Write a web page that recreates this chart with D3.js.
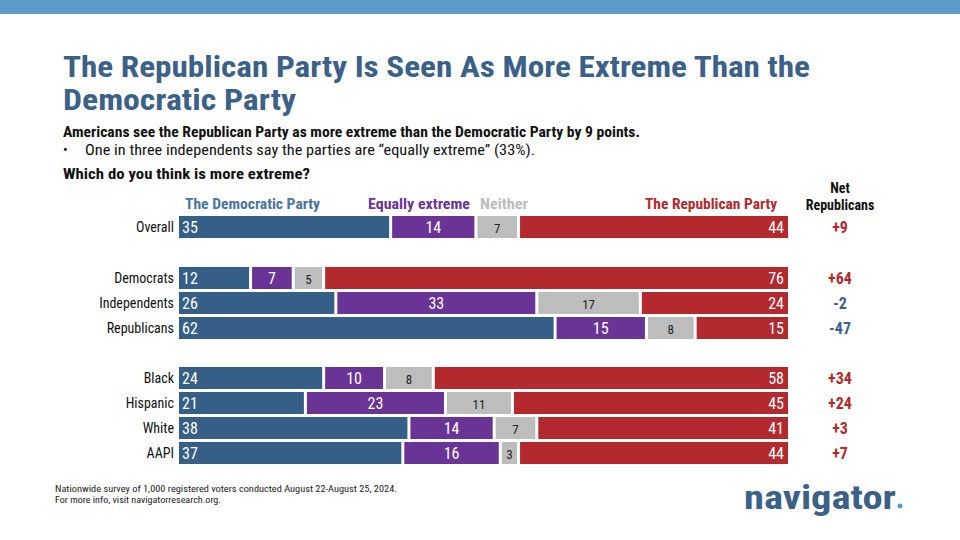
<!DOCTYPE html>
<html><head><meta charset="utf-8">
<script src="https://cdn.jsdelivr.net/npm/d3@7/dist/d3.min.js"></script>
<style>body{margin:0;background:#fff}svg{display:block}text{font-family:"Liberation Sans Narrow","Roboto Condensed","Liberation Sans",sans-serif}</style>
</head><body><svg id="c" width="960" height="540"></svg>
<script>
const groups = ["Overall","Democrats","Independents","Republicans","Black","Hispanic","White","AAPI"];
const demParty = [35,12,26,62,24,21,38,37];
const equally = [14,7,33,15,10,23,14,16];
const neither = [7,5,17,8,8,11,7,3];
const repParty = [44,76,24,15,58,45,41,44];
const netRep = ["+9","+64","-2","-47","+34","+24","+3","+7"];
const rowY = [227,278,303,328,378,403,428,453];
const seriesNames = ["The Democratic Party","Equally extreme","Neither","The Republican Party"];
const colors = ["#355f87","#6a3496","#bdbdbd","#b4292e"];
const textCols = ["#fff","#fff","#222","#fff"];
const legendCols = ["#4a74a0","#6a3496","#bdbdbd","#b4292e"];

const svg = d3.select("#c");
function txt(x,y,s,opt){
  const t = svg.append("text").attr("x",x).attr("y",y).text(s);
  for(const k in opt) t.attr(k,opt[k]);
  if(opt.len) t.attr("textLength",opt.len).attr("lengthAdjust","spacingAndGlyphs");
  return t;
}
svg.append("rect").attr("x",0).attr("y",0).attr("width",960).attr("height",14).attr("fill","#5b9ac9");
txt(63,77,"The Republican Party Is Seen As More Extreme Than the",{"font-size":29,"font-weight":"bold",fill:"#3b6188",len:747});
txt(63,110,"Democratic Party",{"font-size":29,"font-weight":"bold",fill:"#3b6188",len:233});
txt(63,137,"Americans see the Republican Party as more extreme than the Democratic Party by 9 points.",{"font-size":14,"font-weight":"bold",fill:"#111",len:577});
txt(63,155,"•",{"font-size":14,fill:"#111"});
txt(85,155,"One in three independents say the parties are “equally extreme” (33%).",{"font-size":14,fill:"#111",len:450});
txt(63,179,"Which do you think is more extreme?",{"font-size":14,"font-weight":"bold",fill:"#111",len:247});

const x = d3.scaleLinear().domain([0,100]).range([179,788]);
const bh = 22, gap = 3;
const data = [demParty,equally,neither,repParty];

groups.forEach((g,i)=>{
  const y = rowY[i];
  txt(174,y+5,g,{"text-anchor":"end","font-size":14,fill:"#111"});
  let cum = 0;
  data.forEach((arr,s)=>{
    const v = arr[i];
    const x0 = x(cum), x1 = x(cum+v) - (s<3?gap:0);
    svg.append("rect").attr("x",x0).attr("y",y-bh/2).attr("width",Math.max(0,x1-x0)).attr("height",bh).attr("fill",colors[s]);
    let tx, anchor;
    if(s===0){tx=x0+3;anchor="start";}
    else if(s===3){tx=x1-4;anchor="end";}
    else {tx=(x0+x1)/2;anchor="middle";}
    txt(tx,y+6,v,{"text-anchor":anchor,"font-size":s===2?13:16,fill:textCols[s]});
    cum += v;
  });
  const neg = netRep[i].startsWith("-");
  txt(840,y+6,netRep[i],{"text-anchor":"middle","font-size":16,"font-weight":"bold",fill:neg?"#3b6188":"#b4292e"});
});
const lx = [185,368,480,777];
const lw = [135,102,48,132];
seriesNames.forEach((n,s)=>{
  txt(lx[s],209,n,{"text-anchor":s===3?"end":"start","font-size":14,"font-weight":"bold",fill:legendCols[s],len:lw[s]});
});
txt(840,193,"Net",{"text-anchor":"middle","font-size":14,"font-weight":"bold",fill:"#111"});
txt(840,210,"Republicans",{"text-anchor":"middle","font-size":14,"font-weight":"bold",fill:"#111"});
txt(55,492,"Nationwide survey of 1,000 registered voters conducted August 22-August 25, 2024.",{"font-size":9,fill:"#222",len:342});
txt(55,503,"For more info, visit navigatorresearch.org.",{"font-size":9,fill:"#222",len:166});
txt(744,509,"navigator",{"font-size":33,"font-weight":"bold",fill:"#3b6188","font-family":"Liberation Sans, sans-serif",len:152});
svg.append("circle").attr("cx",900).attr("cy",506).attr("r",2.5).attr("fill","#5b9ac9");
</script></body></html>
